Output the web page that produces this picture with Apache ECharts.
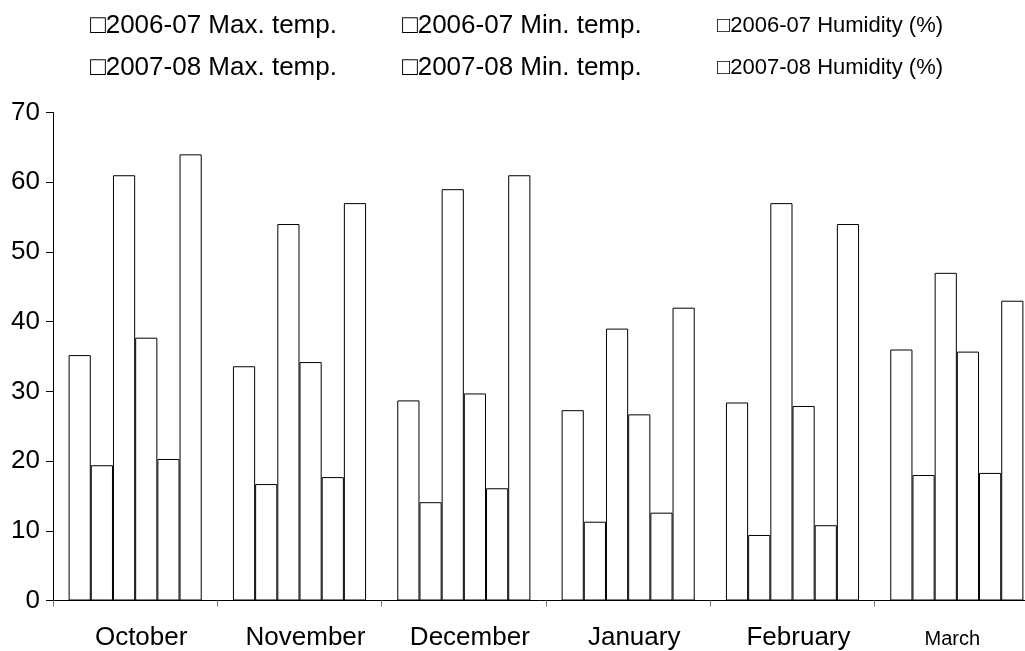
<!DOCTYPE html>
<html>
<head>
<meta charset="utf-8">
<script src="https://cdn.jsdelivr.net/npm/echarts@6/dist/echarts.min.js"></script>
<style>
html,body{margin:0;padding:0;background:#fff;}
#chart{width:1025px;height:651px;}
</style>
</head>
<body>
<div id="chart"></div>
<script>
const months = ['October', 'November', 'December', 'January', 'February', 'March'];
const seriesNames = [
  '2006-07 Max. temp.', '2006-07 Min. temp.', '2006-07 Humidity (%)',
  '2007-08 Max. temp.', '2007-08 Min. temp.', '2007-08 Humidity (%)'
];
const max0607 = [35.2, 33.6, 28.7, 27.3, 28.4, 36.0];
const min0607 = [19.4, 16.7, 14.1, 11.3, 9.4, 18.0];
const hum0607 = [61, 54, 59, 39, 57, 47];
const max0708 = [37.7, 34.2, 29.7, 26.7, 27.9, 35.7];
const min0708 = [20.3, 17.7, 16.1, 12.6, 10.8, 18.3];
const hum0708 = [64, 57, 61, 42, 54, 43];
const yTicks = [0, 10, 20, 30, 40, 50, 60, 70];

const seriesData = [max0607, min0607, hum0607, max0708, min0708, hum0708];
const FONT = "'Liberation Sans', Arial, sans-serif";

const legendPos = [
  {left: 85, top: 13}, {left: 397, top: 13}, {left: 712, top: 13},
  {left: 85, top: 55}, {left: 397, top: 55}, {left: 712, top: 55}
];

const legends = seriesNames.map((n, i) => ({
  data: [n],
  left: legendPos[i].left,
  top: legendPos[i].top,
  padding: 0,
  icon: 'none',
  itemWidth: 0,
  itemHeight: 0,
  selectedMode: false,
  formatter: '\u25A1{name}',
  textStyle: {
    fontSize: (i % 3 === 2) ? 22 : 26,
    lineHeight: 26,
    color: '#000',
    fontFamily: FONT
  }
}));

const chart = echarts.init(document.getElementById('chart'), null, {renderer: 'canvas'});
chart.setOption({
  animation: false,
  backgroundColor: '#fff',
  legend: legends,
  grid: {left: 53, top: 112.5, width: 986, height: 488, containLabel: false, outerBoundsMode: 'none'},
  xAxis: {
    type: 'category',
    data: months.map(m => m === 'March'
      ? {value: m, textStyle: {fontSize: 20, lineHeight: 30, padding: [0, 9, 0, 0]}}
      : m),
    axisLine: {show: true, lineStyle: {color: '#000', width: 1}},
    axisTick: {show: true, length: 6, lineStyle: {color: '#777'}},
    axisLabel: {fontSize: 26, lineHeight: 26, color: '#000', fontFamily: FONT, margin: 24, interval: 0, padding: [0, 0, 0, 12]},
    splitLine: {show: false}
  },
  yAxis: {
    type: 'value',
    min: yTicks[0],
    max: yTicks[yTicks.length - 1],
    interval: 10,
    axisLine: {show: true, lineStyle: {color: '#000', width: 1}},
    axisTick: {show: true, length: 7, lineStyle: {color: '#000'}},
    axisLabel: {fontSize: 26, color: '#000', fontFamily: FONT, margin: 13},
    splitLine: {show: false}
  },
  series: seriesNames.map((n, i) => ({
    name: n,
    type: 'bar',
    data: seriesData[i],
    barGap: '0%',
    barCategoryGap: '19%',
    itemStyle: {color: '#fff', borderColor: '#000', borderWidth: 1}
  }))
});
</script>
</body>
</html>
